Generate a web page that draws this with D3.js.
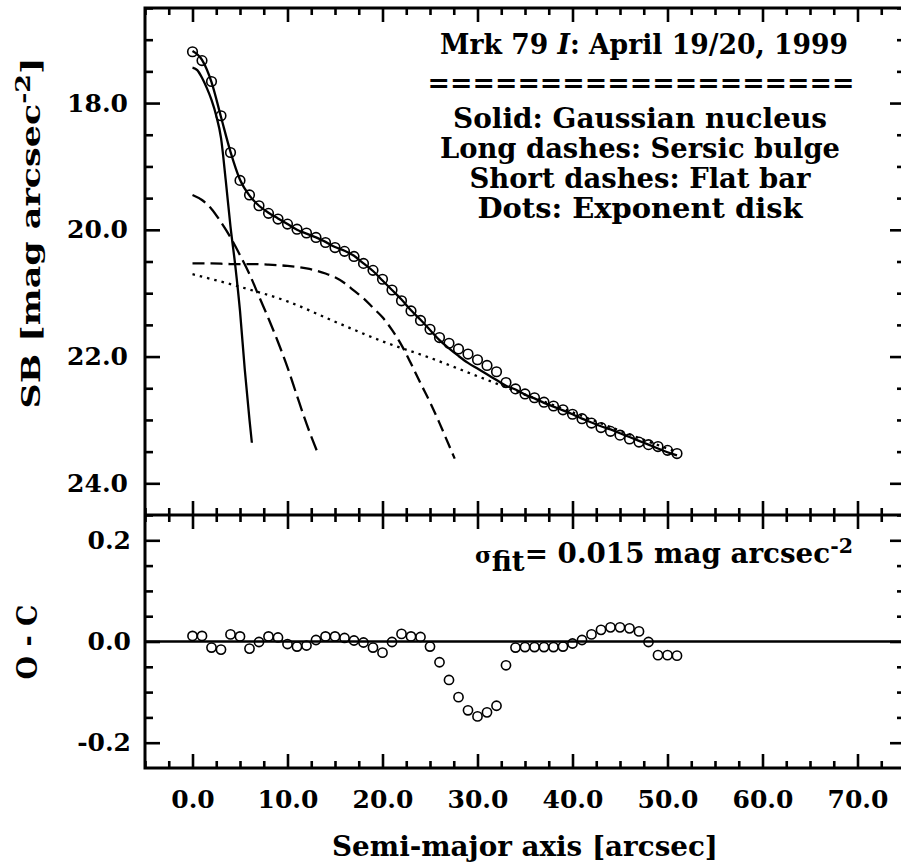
<!DOCTYPE html>
<html>
<head>
<meta charset="utf-8">
<script src="https://cdn.jsdelivr.net/npm/d3@7"></script>
<style>
  body { margin: 0; background: #fff; }
  text { font-family: "DejaVu Serif", "Liberation Serif", serif; font-weight: bold; fill: #000; }
</style>
</head>
<body>
<svg width="901" height="865"></svg>
<script>
// observed surface brightness profile, r = 0..51 arcsec
const radius = d3.range(52);
const sbObserved = [17.19, 17.33, 17.66, 18.20, 18.78, 19.22, 19.45, 19.62, 19.74, 19.83,
  19.91, 19.99, 20.05, 20.12, 20.20, 20.28, 20.34, 20.42, 20.53, 20.64,
  20.78, 20.95, 21.12, 21.28, 21.43, 21.57, 21.70, 21.79, 21.88, 21.96,
  22.05, 22.14, 22.24, 22.41, 22.51, 22.59, 22.65, 22.72, 22.78, 22.84,
  22.91, 22.98, 23.05, 23.12, 23.18, 23.24, 23.30, 23.35, 23.39, 23.42,
  23.48, 23.53];
// total model
const sbModel = [17.18, 17.32, 17.67, 18.22, 18.77, 19.21, 19.46, 19.62, 19.73, 19.82,
  19.91, 20.00, 20.06, 20.12, 20.19, 20.27, 20.33, 20.41, 20.53, 20.65,
  20.80, 20.95, 21.10, 21.27, 21.42, 21.58, 21.74, 21.87, 21.99, 22.10,
  22.19, 22.28, 22.37, 22.46, 22.52, 22.60, 22.66, 22.73, 22.79, 22.85,
  22.91, 22.98, 23.04, 23.10, 23.15, 23.21, 23.27, 23.33, 23.39, 23.45,
  23.51, 23.56];
// residuals O - C
const residual = [0.011, 0.011, -0.012, -0.016, 0.014, 0.010, -0.014, -0.001, 0.010, 0.008,
  -0.005, -0.010, -0.008, 0.003, 0.010, 0.010, 0.007, 0.002, -0.002, -0.012,
  -0.022, -0.001, 0.015, 0.010, 0.009, -0.010, -0.041, -0.076, -0.110, -0.136,
  -0.148, -0.140, -0.127, -0.047, -0.012, -0.011, -0.011, -0.011, -0.011, -0.010,
  -0.004, 0.003, 0.014, 0.023, 0.028, 0.028, 0.026, 0.020, -0.001, -0.027,
  -0.027, -0.028];

// components
const nucleusR = [0, 0.5, 1, 1.5, 2, 2.5, 3, 3.5, 4, 4.5, 5, 5.5, 6, 6.25];
const nucleusSB = [17.44, 17.48, 17.60, 17.76, 17.95, 18.20, 18.55, 19.22, 19.95, 20.56, 21.28, 22.20, 23.00, 23.36];
const bulgeR = [0, 1, 2, 3, 4, 5, 6, 7, 8, 9, 10, 11, 12, 13.1];
const bulgeSB = [19.45, 19.53, 19.67, 19.88, 20.12, 20.40, 20.70, 21.05, 21.40, 21.77, 22.17, 22.62, 23.06, 23.49];
const barR = [0, 2, 4, 6, 8, 10, 12, 14, 15, 16, 17, 18, 19, 20, 21, 22, 23, 24, 25, 26, 27, 27.6];
const barSB = [20.53, 20.53, 20.54, 20.54, 20.55, 20.57, 20.61, 20.69, 20.75, 20.84, 20.96, 21.08, 21.23, 21.38, 21.58, 21.82, 22.11, 22.42, 22.72, 23.05, 23.40, 23.61];
const diskR = [0, 5, 10, 15, 20, 25, 30, 35, 40, 45, 51];
const diskSB = [20.70, 20.90, 21.13, 21.45, 21.76, 22.02, 22.31, 22.60, 22.88, 23.17, 23.51];

const xTicks = [0, 10, 20, 30, 40, 50, 60, 70];
const sbTicks = [18, 20, 22, 24];
const ocTicks = [-0.2, 0, 0.2];
const legendLines = ['Solid: Gaussian nucleus', 'Long dashes: Sersic bulge', 'Short dashes: Flat bar', 'Dots: Exponent disk'];

const svg = d3.select('svg');

const x = d3.scaleLinear().domain([-5, 75]).range([145, 905]);
const yTop = d3.scaleLinear().domain([16.5, 24.5]).range([8, 515]);
const yBot = d3.scaleLinear().domain([0.25, -0.25]).range([515, 768]);

const majorX = d3.range(0, 80, 10);
const minorX = d3.range(-5, 76, 2.5).filter(d => d % 10 !== 0);

// draws inward ticks with d3 axes
const tickAxis = (axisFn, scale, values, size, pos) => {
  const g = svg.append('g')
    .attr('transform', pos)
    .call(axisFn(scale).tickValues(values).tickSize(size).tickFormat(''));
  g.select('.domain').remove();
  g.selectAll('line').attr('stroke', '#000').attr('stroke-width', 2.6);
  return g;
};

// x ticks on all horizontal borders
[[yTop.range()[0], 1], [515, -1], [515, 1], [768, -1]].forEach(([yy, dir]) => {
  tickAxis(d3.axisBottom, x, majorX, dir * 14, `translate(0,${yy})`);
  tickAxis(d3.axisBottom, x, minorX, dir * 7, `translate(0,${yy})`);
});

// y ticks, top panel
const sbMinor = d3.range(16.5, 24.51, 0.5).filter(d => d % 2 !== 0);
tickAxis(d3.axisRight, yTop, sbTicks, 15, 'translate(145,0)');
tickAxis(d3.axisRight, yTop, sbMinor, 8, 'translate(145,0)');
tickAxis(d3.axisLeft, yTop, sbTicks, 15, 'translate(905,0)');
tickAxis(d3.axisLeft, yTop, sbMinor, 8, 'translate(905,0)');

// y ticks, bottom panel
const ocMinor = [-0.15, -0.1, -0.05, 0.05, 0.1, 0.15];
tickAxis(d3.axisRight, yBot, ocTicks, 15, 'translate(145,0)');
tickAxis(d3.axisRight, yBot, ocMinor, 8, 'translate(145,0)');
tickAxis(d3.axisLeft, yBot, ocTicks, 15, 'translate(905,0)');
tickAxis(d3.axisLeft, yBot, ocMinor, 8, 'translate(905,0)');

// frame
svg.append('rect')
  .attr('x', x(-5)).attr('y', yTop(16.5))
  .attr('width', x(75) - x(-5)).attr('height', yBot(-0.25) - yTop(16.5))
  .attr('fill', 'none').attr('stroke', '#000').attr('stroke-width', 3);
svg.append('line')
  .attr('x1', x(-5)).attr('x2', x(75)).attr('y1', 515).attr('y2', 515)
  .attr('stroke', '#000').attr('stroke-width', 3);

// tick labels
const fmt = d => d3.format('.1f')(d).replace('−', '-');
const labelAxis = (axis, pos, size) => {
  const g = svg.append('g').attr('transform', pos).call(axis);
  g.select('.domain').remove();
  g.selectAll('line').remove();
  g.selectAll('text').attr('font-size', size).attr('font-family', null).attr('font-weight', null);
  return g;
};
labelAxis(d3.axisBottom(x).tickValues(xTicks).tickSize(0).tickPadding(22).tickFormat(fmt),
  'translate(0,768)', 25);
labelAxis(d3.axisLeft(yTop).tickValues(sbTicks).tickSize(0).tickPadding(17).tickFormat(fmt),
  'translate(145,0)', 25);
labelAxis(d3.axisLeft(yBot).tickValues(ocTicks).tickSize(0).tickPadding(14).tickFormat(d => d === 0 ? '0.0' : fmt(d)),
  'translate(145,0)', 25);

// component curves
const line = (xs, ys, yScale) => d3.line()
  .x((d, i) => x(xs[i]))
  .y((d, i) => yScale(ys[i]))
  .curve(d3.curveMonotoneX)(xs);

const curves = [
  { r: nucleusR, sb: nucleusSB, dash: null },
  { r: bulgeR, sb: bulgeSB, dash: '15,6' },
  { r: barR, sb: barSB, dash: '12,6' },
  { r: diskR, sb: diskSB, dash: '2.5,5' },
  { r: radius, sb: sbModel, dash: null }
];
svg.append('g').selectAll('path')
  .data(curves)
  .join('path')
    .attr('d', c => line(c.r, c.sb, yTop))
    .attr('fill', 'none')
    .attr('stroke', '#000')
    .attr('stroke-width', 2.3)
    .attr('stroke-dasharray', c => c.dash);

svg.append('g').selectAll('circle')
  .data(radius)
  .join('circle')
    .attr('cx', d => x(d))
    .attr('cy', (d, i) => yTop(sbObserved[i]))
    .attr('r', 4.8)
    .attr('fill', 'none')
    .attr('stroke', '#000')
    .attr('stroke-width', 1.6);

// residual panel
svg.append('line')
  .attr('x1', x(-5)).attr('x2', x(75)).attr('y1', yBot(0)).attr('y2', yBot(0))
  .attr('stroke', '#000').attr('stroke-width', 2.6);
svg.append('g').selectAll('circle')
  .data(radius)
  .join('circle')
    .attr('cx', d => x(d))
    .attr('cy', (d, i) => yBot(residual[i]))
    .attr('r', 4.6)
    .attr('fill', 'none')
    .attr('stroke', '#000')
    .attr('stroke-width', 1.6);

// legend block
const legend = svg.append('g').attr('font-size', 27).attr('text-anchor', 'middle');
const title = legend.append('text').attr('x', 644).attr('y', 54)
  .attr('textLength', 408).attr('lengthAdjust', 'spacingAndGlyphs');
title.append('tspan').text('Mrk 79 ');
title.append('tspan').attr('font-style', 'italic').text('I');
title.append('tspan').text(': April 19/20, 1999');
legend.append('text').attr('x', 641).attr('y', 92).text('===================')
  .attr('textLength', 427).attr('lengthAdjust', 'spacingAndGlyphs');
const legendWidths = [374, 400, 341, 325];
legend.selectAll('text.entry')
  .data(legendLines)
  .join('text')
    .attr('class', 'entry')
    .attr('x', 640)
    .attr('y', (d, i) => 128 + i * 30)
    .attr('textLength', (d, i) => legendWidths[i])
    .attr('lengthAdjust', 'spacingAndGlyphs')
    .text(d => d);

// sigma label
const sig = svg.append('text').attr('x', 475).attr('y', 563).attr('font-size', 27)
  .attr('textLength', 378).attr('lengthAdjust', 'spacingAndGlyphs');
sig.append('tspan').attr('font-size', 22).text('σ');
sig.append('tspan').attr('dy', 8).text('fit');
sig.append('tspan').attr('dy', -8).text('= 0.015 mag arcsec');
sig.append('tspan').attr('dy', -10).attr('font-size', 20).text('-2');

// axis titles
svg.append('text')
  .attr('x', 525).attr('y', 856)
  .attr('font-size', 28).attr('text-anchor', 'middle')
  .attr('textLength', 386).attr('lengthAdjust', 'spacingAndGlyphs')
  .text('Semi-major axis [arcsec]');

const sbLabel = svg.append('text')
  .attr('transform', 'translate(40,233) rotate(-90)')
  .attr('font-size', 26).attr('text-anchor', 'middle')
  .attr('textLength', 351).attr('lengthAdjust', 'spacingAndGlyphs');
sbLabel.append('tspan').text('SB [mag arcsec');
sbLabel.append('tspan').attr('dy', -10).attr('font-size', 20).text('-2');
sbLabel.append('tspan').attr('dy', 10).text(']');

svg.append('text')
  .attr('transform', 'translate(37,642) rotate(-90)')
  .attr('font-size', 27).attr('text-anchor', 'middle')
  .text('O - C');
</script>
</body>
</html>
